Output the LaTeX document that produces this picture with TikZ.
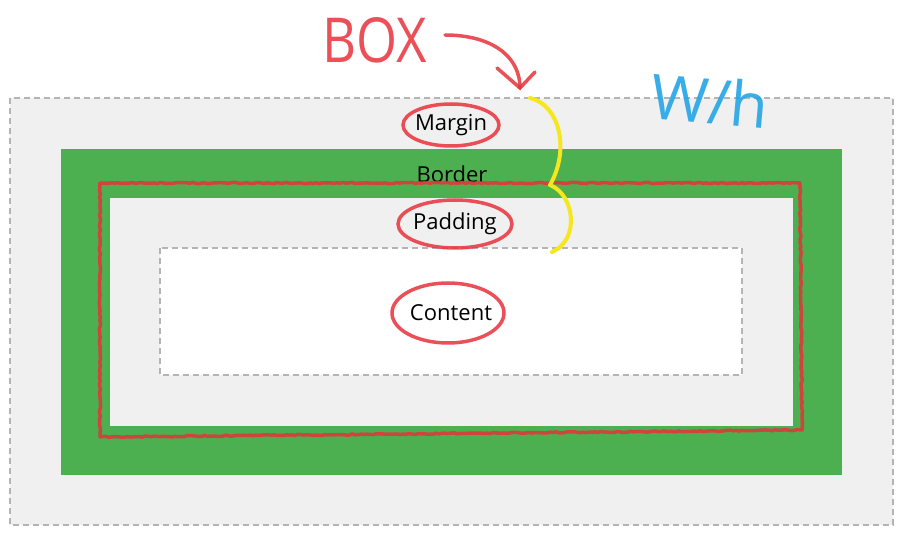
\documentclass[tikz,border=0pt]{standalone}
\usepackage{fontspec}
\setmainfont{Open Sans}
\usetikzlibrary{decorations.pathmorphing}
\definecolor{mgray}{HTML}{F0F0F0}
\definecolor{bgreen}{HTML}{4CAF50}
\definecolor{dgray}{HTML}{B4B4B4}
\definecolor{pen}{HTML}{E8323C}
\definecolor{ypen}{HTML}{F5E61E}
\definecolor{bpen}{HTML}{23A5E6}
\tikzset{
  dashbox/.style={draw=dgray, line width=1.2pt, dash pattern=on 6pt off 4pt},
  lbl/.style={font=\fontsize{22}{26}\selectfont, text=black, inner sep=0pt},
  penline/.style={draw=pen, line width=3.5pt, opacity=0.85, line cap=round, line join=round,
    decorate, decoration={random steps, segment length=3pt, amplitude=0.6pt}},
  loop/.style={draw=pen, line width=3.5pt, opacity=0.85},
}
\begin{document}
\begin{tikzpicture}[x=1pt,y=-1pt]
\useasboundingbox (0,0) rectangle (903,534);
\fill[white] (0,0) rectangle (903,534);
% margin
\path[fill=mgray, dashbox] (10,98) rectangle (893,525);
% border
\fill[bgreen] (61,149) rectangle (842,475);
% padding
\fill[mgray] (110,198) rectangle (793,426);
% content
\path[fill=white, dashbox] (160,248) rectangle (742,375);
% labels
\node[lbl] (margin) at (451,125) {Margin};
\node[lbl] (border) at (452,174) {Border};
\node[lbl] (padding) at (455,224) {Padding};
\node[lbl] (content) at (451,313) {Content};
% red hand-drawn box
\draw[penline] (100,183) -- (800,183) -- (802,430) -- (100,437) -- cycle;
% loops
\draw[loop] (margin.center) ellipse[x radius=48, y radius=21];
\draw[loop] (padding.center) ellipse[x radius=57, y radius=24];
\draw[loop] ([xshift=-3pt]content.center) ellipse[x radius=56, y radius=30];
% BOX note
\node[text=pen, opacity=0.85, inner sep=0pt, font=\fontsize{62}{62}\selectfont, xscale=0.85] (box) at (375,40) {BOX};
\coordinate (tip) at (520,88);
\draw[loop, line cap=round] (445,35) .. controls (490,35) and (520,55) .. (tip);
\draw[loop, line cap=round] (497,68) -- (tip) -- (535,72);
% yellow brace
\draw[draw=ypen, line width=4pt, line cap=round, line join=round]
  (530,98) .. controls (560,105) and (570,150) .. (550,185)
  .. controls (575,195) and (580,240) .. (552,252);
% w/h note
\node[text=bpen, opacity=0.9, inner sep=0pt, font=\fontsize{62}{62}\selectfont, rotate=-5] (wh) at (710,100) {W/h};
\end{tikzpicture}
\end{document}
